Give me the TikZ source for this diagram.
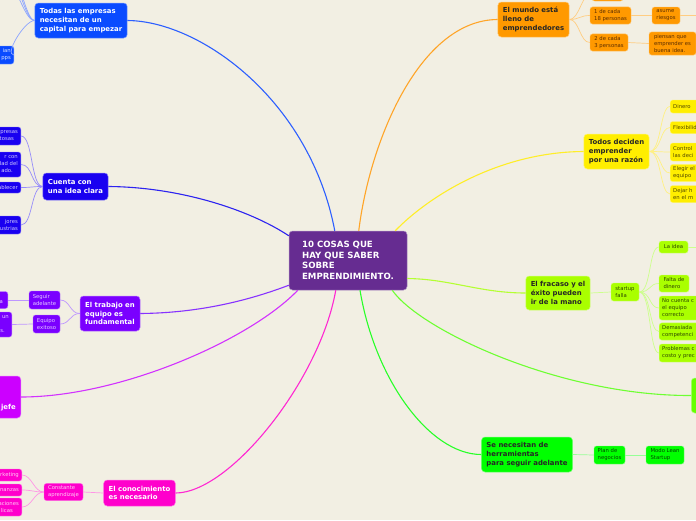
\documentclass[tikz,border=0pt]{standalone}
\usepackage{fontspec}
\setmainfont{DejaVu Sans}
\definecolor{bg}{RGB}{242,239,227}
\definecolor{cpurple}{RGB}{102,44,145}
\definecolor{cblueA}{RGB}{10,75,255}
\definecolor{cblueB}{RGB}{25,0,240}
\definecolor{cviolet}{RGB}{122,0,255}
\definecolor{cmagA}{RGB}{204,0,255}
\definecolor{cmagB}{RGB}{255,0,204}
\definecolor{corange}{RGB}{255,153,0}
\definecolor{cyellow}{RGB}{255,238,0}
\definecolor{clime}{RGB}{170,255,0}
\definecolor{cgreenA}{RGB}{102,255,0}
\definecolor{cgreenB}{RGB}{0,255,0}
\definecolor{lblueA}{RGB}{45,95,255}
\definecolor{sblueA}{RGB}{140,165,255}
\definecolor{lblueB}{RGB}{45,35,240}
\definecolor{sblueB}{RGB}{150,140,250}
\definecolor{lviolet}{RGB}{135,50,255}
\definecolor{sviolet}{RGB}{190,150,255}
\definecolor{lmagA}{RGB}{210,50,255}
\definecolor{lmagB}{RGB}{255,40,210}
\definecolor{smagB}{RGB}{255,150,230}
\definecolor{lorange}{RGB}{255,165,40}
\definecolor{sorange}{RGB}{255,205,130}
\definecolor{lyellow}{RGB}{255,238,40}
\definecolor{syellow}{RGB}{255,240,130}
\definecolor{llime}{RGB}{180,255,50}
\definecolor{slime}{RGB}{205,255,140}
\definecolor{lgreenA}{RGB}{110,255,50}
\definecolor{lgreenB}{RGB}{40,255,40}
\definecolor{sgreenB}{RGB}{150,255,150}
\definecolor{torange}{RGB}{90,45,0}
\definecolor{tyellow}{RGB}{80,70,0}
\definecolor{tlime}{RGB}{45,70,0}
\definecolor{tgreen}{RGB}{0,70,0}
\begin{document}
\begin{tikzpicture}[x=1pt,y=-1pt,
  mbox/.style={fill=#1, draw=#1!55!white, line width=0.5pt, rounded corners=3.5pt, align=left, inner xsep=5pt, inner ysep=4pt, font=\fontsize{6.9}{8.7}\selectfont\bfseries},
  sbox/.style={fill=#1, draw=#1!55!white, line width=0.4pt, rounded corners=2.5pt, align=left, inner xsep=3pt, inner ysep=2.5pt, font=\fontsize{5.3}{7}\selectfont},
  lcrop/.style={sbox=#1, anchor=east, text width=34pt, align=right},
  rcrop/.style={sbox=#1, anchor=west, text width=40pt, align=left},
  lnk/.style={draw=#1, line width=1.1pt},
  slnk/.style={draw=#1, line width=0.7pt}]
\useasboundingbox (0,0) rectangle (696,520);
\fill[bg] (0,0) rectangle (696,520);
\clip (0,0) rectangle (696,520);

% central
\node[mbox=cpurple, text=white, font=\fontsize{8.6}{10.6}\selectfont\bfseries, minimum width=118pt, minimum height=59pt] (c) at (348,260.5) {10 COSAS QUE\\HAY QUE SABER\\SOBRE\\EMPRENDIMIENTO.};

% main nodes
\node[mbox=cblueA, text=white, minimum width=92pt, minimum height=35pt] (todas) at (81,20.5) {Todas las empresas\\necesitan de un\\capital para empezar};
\node[mbox=cblueB, text=white, minimum width=65pt, minimum height=27pt] (cuenta) at (75.5,186.5) {Cuenta con\\una idea clara};
\node[mbox=cviolet, text=white, minimum width=60pt, minimum height=35pt] (trabajo) at (110,313.5) {El trabajo en\\equipo es\\fundamental};
\node[mbox=cmagA, text=white, anchor=east, minimum height=42pt, text width=24pt, align=right] (jefe) at (21,397) {\mbox{}\\\mbox{}\\\mbox{}\\jefe};
\node[mbox=cmagB, text=white, minimum width=71pt, minimum height=26pt] (conoc) at (139.5,493) {El conocimiento\\es necesario};
\node[mbox=corange, text=black!85, minimum width=71pt, minimum height=35pt] (mundo) at (533.5,19.5) {El mundo está\\lleno de\\emprendedores};
\node[mbox=cyellow, text=black!85, minimum width=65pt, minimum height=35pt] (todosd) at (616.5,151.5) {Todos deciden\\emprender\\por una razón};
\node[mbox=clime, text=black!85, minimum width=64pt, minimum height=34pt] (fracaso) at (558,293) {El fracaso y el\\éxito pueden\\ir de la mano};
\node[mbox=cgreenA, anchor=west, minimum width=30pt, minimum height=35pt] (verde) at (691,395.5) {};
\node[mbox=cgreenB, text=black!85, minimum width=90pt, minimum height=35pt] (herram) at (527,454.5) {Se necesitan de\\herramientas\\para seguir adelante};

% todas children
\node[lcrop=cblueA, text=white!85!cblueA, minimum height=18pt] (t1) at (14,55) {ian\hspace*{2pt}\\pps};
\coordinate (tx1) at (8,-14);
\coordinate (tx2) at (6,-30);
\coordinate (tx3) at (4,-48);

% cuenta children
\node[lcrop=cblueB, text=white!80!cblueB, minimum height=18pt] (cu1) at (21,136) {presas\\tosas\hspace*{4pt}};
\node[lcrop=cblueB, text=white!80!cblueB, minimum height=25pt] (cu2) at (21,164.5) {r con\hspace*{3pt}\\dad del\\ado.\hspace*{5pt}};
\node[lcrop=cblueB, text=white!80!cblueB, minimum height=11pt] (cu3) at (21,187.5) {ablecer};
\node[lcrop=cblueB, text=white!80!cblueB, minimum height=18pt] (cu4) at (21,225) {jores\hspace*{3pt}\\ustrias};

% trabajo children
\node[sbox=cviolet, text=white!80!cviolet, minimum width=31pt, minimum height=18pt] (seg) at (44.5,300) {Seguir\\adelante};
\node[sbox=cviolet, text=white!80!cviolet, minimum width=27pt, minimum height=18pt] (equ) at (46.5,324) {Equipo\\exitoso};
\node[lcrop=cviolet, text=white!80!cviolet, minimum height=17pt] (g1) at (8,300) {\mbox{}\\a\hspace*{2pt}};
\node[lcrop=cviolet, text=white!80!cviolet, minimum height=25pt] (g2) at (12,324.5) {un\hspace*{2pt}\\\mbox{}\\s.\hspace*{4pt}};

% conocimiento children
\node[sbox=cmagB, text=white!80!cmagB, minimum width=39pt, minimum height=16pt] (const) at (63.5,492) {Constante\\aprendizaje};
\node[lcrop=cmagB, text=white!80!cmagB, minimum height=12pt] (k1) at (22,475) {rketing};
\node[lcrop=cmagB, text=white!80!cmagB, minimum height=12pt] (k2) at (22,490) {nanzas};
\node[lcrop=cmagB, text=white!80!cmagB, minimum height=18pt] (k3) at (22,507) {aciones\\licas\hspace*{6pt}};

% mundo children
\node[sbox=corange, minimum width=31pt, minimum height=16pt] (m0) at (607.5,-7) {};
\node[sbox=corange, text=torange, minimum width=41pt, minimum height=17pt] (m1) at (610.5,15.5) {1 de cada\\18 personas};
\node[sbox=corange, text=torange, minimum width=38pt, minimum height=17pt] (m2) at (609,42.5) {2 de cada\\3 personas};
\node[sbox=corange, text=torange, minimum width=28pt, minimum height=17pt] (m1a) at (666,15.5) {asume\\riesgos};
\node[sbox=corange, text=torange, minimum width=47pt, minimum height=23pt] (m2a) at (672.5,43.5) {piensan que\\emprender es\\buena idea.};
\coordinate (m1x) at (700,15.5);

% todos deciden children
\node[rcrop=cyellow, text=tyellow, minimum height=13pt] (y1) at (670,106.5) {Dinero};
\node[rcrop=cyellow, text=tyellow, minimum height=12pt] (y2) at (670,127.5) {Flexibilid};
\node[rcrop=cyellow, text=tyellow, minimum height=18pt] (y3) at (670,152) {Control\\las deci};
\node[rcrop=cyellow, text=tyellow, minimum height=17pt] (y4) at (670,173) {Elegir el\\equipo};
\node[rcrop=cyellow, text=tyellow, minimum height=17pt] (y5) at (670,194) {Dejar h\\en el m};

% fracaso children
\node[sbox=clime, text=tlime, minimum width=28pt, minimum height=18pt] (sf) at (625,292) {startup\\falla};
\node[sbox=clime, text=tlime, minimum width=29pt, minimum height=12pt] (f1) at (673.5,247) {La idea};
\coordinate (f1x) at (700,247);
\node[sbox=clime, text=tlime, minimum width=30pt, minimum height=17pt] (f2) at (674,283.5) {Falta de\\dinero};
\node[rcrop=clime, text=tlime, minimum height=24pt] (f3) at (659,308) {No cuenta c\\el equipo\\correcto};
\node[rcrop=clime, text=tlime, minimum height=17pt] (f4) at (659,331.5) {Demasiada\\competenci};
\node[rcrop=clime, text=tlime, minimum height=18pt] (f5) at (659,353) {Problemas c\\costo y prec};

% herramientas children
\node[sbox=cgreenB, text=tgreen, minimum width=31pt, minimum height=18pt] (h1) at (609.5,455) {Plan de\\negocios};
\node[sbox=cgreenB, text=tgreen, minimum width=38pt, minimum height=18pt] (h2) at (665,455) {Modo Lean\\Startup};

% main connectors
\draw[lnk=lblueA] ([xshift=46pt]c.north west) .. controls (310,100) and (200,21) .. (todas.east);
\draw[lnk=lblueB] ([yshift=-5pt]c.north west) .. controls (250,210) and (180,187) .. (cuenta.east);
\draw[lnk=lviolet] ([yshift=5pt]c.south west) .. controls (250,300) and (200,313) .. (trabajo.east);
\draw[lnk=lmagA] ([xshift=9pt]c.south west) .. controls (250,340) and (120,397) .. (jefe.east);
\draw[lnk=lmagB] ([xshift=47pt]c.south west) .. controls (320,380) and (230,493) .. (conoc.east);
\draw[lnk=lorange] ([xshift=70pt]c.north west) .. controls (370,140) and (420,20) .. (mundo.west);
\draw[lnk=lyellow] ([xshift=-12pt]c.north east) .. controls (430,195) and (500,152) .. (todosd.west);
\draw[lnk=llime] ([yshift=-18pt]c.east) .. controls (450,279) and (480,293) .. (fracaso.west);
\draw[lnk=lgreenB] ([xshift=12pt]c.south) .. controls (375,380) and (430,454.5) .. (herram.west);
\draw[lnk=lgreenA] ([xshift=-15pt]c.south east) .. controls (420,330) and (560,396) .. (verde.west);

% sub connectors
\foreach \t in {tx1,tx2,tx3,t1}
  \draw[slnk=sblueA] (todas.west) .. controls +(-10,0) and +(10,0) .. (\t);
\foreach \t in {cu1,cu2,cu3,cu4}
  \draw[slnk=sblueB] (cuenta.west) .. controls +(-12,0) and +(12,0) .. (\t.east);
\foreach \t in {seg,equ}
  \draw[slnk=sviolet] (trabajo.west) .. controls +(-10,0) and +(10,0) .. (\t.east);
\draw[slnk=sviolet] (seg.west) -- (g1.east);
\draw[slnk=sviolet] (equ.west) -- (g2.east);
\draw[slnk=smagB] (conoc.west) -- (const.east);
\foreach \t in {k1,k2,k3}
  \draw[slnk=smagB] (const.west) .. controls +(-10,0) and +(10,0) .. (\t.east);
\foreach \t in {m0,m1,m2}
  \draw[slnk=sorange] (mundo.east) .. controls +(10,0) and +(-10,0) .. (\t.west);
\draw[slnk=sorange] (m1.east) -- (m1a.west);
\draw[slnk=sorange] (m2.east) -- (m2a.west);
\draw[slnk=sorange] (m1a.east) -- (m1x);
\foreach \t in {y1,y2,y3,y4,y5}
  \draw[slnk=syellow] (todosd.east) .. controls +(12,0) and +(-10,0) .. (\t.west);
\draw[slnk=slime] (fracaso.east) -- (sf.west);
\foreach \t in {f1,f2,f3,f4,f5}
  \draw[slnk=slime] (sf.east) .. controls +(12,0) and +(-10,0) .. (\t.west);
\draw[slnk=slime] (f1.east) -- (f1x);
\draw[slnk=sgreenB] (herram.east) -- (h1.west);
\draw[slnk=sgreenB] (h1.east) -- (h2.west);
\end{tikzpicture}
\end{document}
